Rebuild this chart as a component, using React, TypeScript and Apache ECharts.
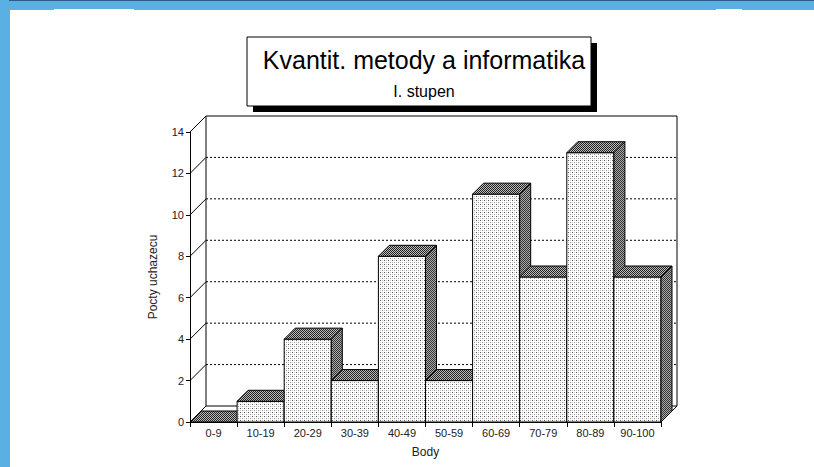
import React, { useEffect, useRef } from "react";
import * as echarts from "echarts";

const categories = ["0-9", "10-19", "20-29", "30-39", "40-49", "50-59", "60-69", "70-79", "80-89", "90-100"];
const counts = [0, 1, 4, 2, 8, 2, 11, 7, 13, 7];
const yTicks = [0, 2, 4, 6, 8, 10, 12, 14];
const titleText = "Kvantit. metody a informatika";
const subtitleText = "I. stupen";
const xName = "Body";
const yName = "Pocty uchazecu";

const WALL_DEPTH = 16;
const BAR_DEPTH = 11;
const FONT = "'Liberation Sans', Arial, Helvetica, sans-serif";

function makePattern(size: number, bg: string, dots: [number, number, string][]) {
  const c = document.createElement("canvas");
  c.width = size;
  c.height = size;
  const ctx = c.getContext("2d")!;
  ctx.fillStyle = bg;
  ctx.fillRect(0, 0, size, size);
  for (const [x, y, col] of dots) {
    ctx.fillStyle = col;
    ctx.fillRect(x, y, 1, 1);
  }
  return { image: c, repeat: "repeat" as const };
}

export default function App() {
  const ref = useRef<HTMLDivElement>(null);
  useEffect(() => {
    document.body.style.margin = "0";
    const chart = echarts.init(ref.current!, null, { renderer: "svg" });

    const frontFill = makePattern(4, "#ffffff", [
      [0, 0, "#555"], [2, 2, "#999"], [0, 2, "#ccc"], [2, 0, "#ccc"],
    ]);
    const topFill = makePattern(2, "#bbbbbb", [[0, 0, "#222"], [1, 1, "#222"]]);
    const sideFill = makePattern(2, "#aaaaaa", [[0, 0, "#333"], [1, 1, "#333"]]);

    const option: any = {
      animation: false,
      backgroundColor: "#ffffff",
      title: {
        text: titleText,
        subtext: subtitleText,
        left: 419,
        textAlign: "center",
        top: 42,
        itemGap: 11,
        z: 10,
        textStyle: { fontFamily: FONT, fontSize: 25, fontWeight: "normal", color: "#000" },
        subtextStyle: { fontFamily: FONT, fontSize: 16, color: "#000" },
      },
      graphic: [
        { type: "rect", z: 0, shape: { x: 0, y: 0, width: 10, height: 467 }, style: { fill: "#5AAFE3" } },
        { type: "rect", z: 0, shape: { x: 0, y: 0, width: 814, height: 10 }, style: { fill: "#5AAFE3" } },
        { type: "rect", z: 0, shape: { x: 54, y: 9, width: 80, height: 1 }, style: { fill: "#ffffff" } },
        { type: "rect", z: 0, shape: { x: 716, y: 9, width: 26, height: 1 }, style: { fill: "#ffffff" } },
        { type: "rect", z: 0, shape: { x: 9, y: 0, width: 805, height: 1 }, style: { fill: "#2B5B80" } },
        { type: "rect", z: 1, shape: { x: 253, y: 43, width: 344, height: 69 }, style: { fill: "#000" } },
        { type: "rect", z: 2, shape: { x: 247, y: 37, width: 344, height: 69 }, style: { fill: "#fff", stroke: "#000", lineWidth: 1 } },
      ],
      grid: { left: 190, right: 153, top: 132, bottom: 45, containLabel: false },
      xAxis: {
        type: "category",
        data: categories,
        boundaryGap: true,
        name: xName,
        nameLocation: "middle",
        nameGap: 24,
        nameTextStyle: { fontFamily: FONT, fontSize: 12, color: "#222" },
        axisLine: { show: true, lineStyle: { color: "#000", width: 1 } },
        axisTick: { show: true, length: 5, interval: 0, alignWithLabel: false, lineStyle: { color: "#000" } },
        axisLabel: { interval: 0, margin: 5, fontFamily: FONT, fontSize: 11, color: "#222" },
        splitLine: { show: false },
      },
      yAxis: {
        type: "value",
        min: 0,
        max: 14,
        interval: 2,
        name: yName,
        nameLocation: "middle",
        nameGap: 31,
        nameTextStyle: { fontFamily: FONT, fontSize: 12, color: "#222" },
        axisLine: { show: true, lineStyle: { color: "#000", width: 1 } },
        axisTick: { show: true, length: 4, lineStyle: { color: "#000" } },
        axisLabel: { margin: 6, fontFamily: FONT, fontSize: 11, color: "#222" },
        splitLine: { show: false },
      },
      series: [
        {
          type: "custom",
          name: "wall",
          z: 1,
          silent: true,
          data: [[0, 0]],
          renderItem: (params: any, api: any) => {
            const cs = params.coordSys;
            return {
              type: "rect",
              shape: { x: cs.x + WALL_DEPTH, y: cs.y - WALL_DEPTH, width: cs.width, height: cs.height },
              style: { fill: "#fff", stroke: "#000", lineWidth: 1 },
            };
          },
        },
        {
          type: "custom",
          name: "gridlines",
          z: 2,
          silent: true,
          data: yTicks.map((t) => [0, t]),
          renderItem: (params: any, api: any) => {
            const cs = params.coordSys;
            const v = api.value(1);
            const y = api.coord([0, v])[1];
            const children: any[] = [
              {
                type: "line",
                shape: { x1: cs.x, y1: y, x2: cs.x + WALL_DEPTH, y2: y - WALL_DEPTH },
                style: { stroke: "#000", lineWidth: 1 },
              },
            ];
            if (v !== yTicks[0] && v !== yTicks[yTicks.length - 1]) {
              children.push({
                type: "line",
                shape: { x1: cs.x + WALL_DEPTH, y1: y - WALL_DEPTH, x2: cs.x + cs.width + WALL_DEPTH, y2: y - WALL_DEPTH },
                style: { stroke: "#000", lineWidth: 1, lineDash: [2, 2] },
              });
            }
            if (v === yTicks[0]) {
              children.push({
                type: "line",
                shape: { x1: cs.x + cs.width, y1: y, x2: cs.x + cs.width + WALL_DEPTH, y2: y - WALL_DEPTH },
                style: { stroke: "#000", lineWidth: 1 },
              });
            }
            return { type: "group", children };
          },
        },
        {
          type: "custom",
          name: "Pocty",
          z: 3,
          data: counts.map((c, i) => [i, c]),
          encode: { x: 0, y: 1 },
          renderItem: (params: any, api: any) => {
            const i = api.value(0);
            const v = api.value(1);
            const top = api.coord([i, v]);
            const base = api.coord([i, 0]);
            const bw = api.size([1, 0])[0];
            const x0 = top[0] - bw / 2;
            const x1 = top[0] + bw / 2;
            const yT = top[1];
            const yB = base[1];
            const d = BAR_DEPTH;
            const children: any[] = [];
            if (v > 0) {
              children.push({
                type: "rect",
                shape: { x: x0, y: yT, width: x1 - x0, height: yB - yT },
                style: { fill: frontFill, stroke: "#000", lineWidth: 1 },
              });
              children.push({
                type: "polygon",
                shape: { points: [[x1, yT], [x1 + d, yT - d], [x1 + d, yB - d], [x1, yB]] },
                style: { fill: sideFill, stroke: "#000", lineWidth: 1 },
              });
            }
            children.push({
              type: "polygon",
              shape: { points: [[x0, yT], [x0 + d, yT - d], [x1 + d, yT - d], [x1, yT]] },
              style: { fill: topFill, stroke: "#000", lineWidth: 1 },
            });
            return { type: "group", children };
          },
        },
      ],
    };
    chart.setOption(option);
    return () => chart.dispose();
  }, []);
  return <div ref={ref} style={{ position: "fixed", left: 0, top: 0, width: 814, height: 467 }} />;
}
